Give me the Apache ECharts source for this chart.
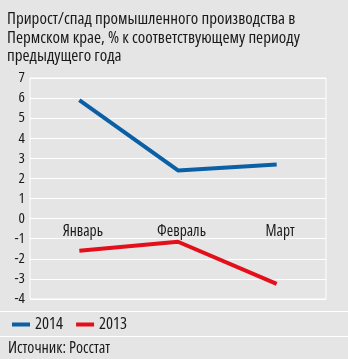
<!DOCTYPE html>
<html><head><meta charset="utf-8">
<script src="https://cdn.jsdelivr.net/npm/echarts@6/dist/echarts.min.js"></script>
<style>html,body{margin:0;padding:0;background:#e5e5e5;}#c{width:348px;height:359px;}</style>
</head><body><div id="c"></div>
<script>
const categories = ['Январь', 'Февраль', 'Март'];
const series2014 = [5.9, 2.4, 2.7];
const series2013 = [-1.6, -1.15, -3.25];
const legendNames = ['2014', '2013'];
const yMin = -4, yMax = 7, yStep = 1;

const FAM = '"Open Sans", "Roboto Condensed", sans-serif';
const ST = 'condensed';
const TXT = '#1a1a1a';
const GRID_TOP = 78, GRID_BOTTOM = 60, H = 359;
const plotH = H - GRID_TOP - GRID_BOTTOM;
const zeroOffset = -plotH * (0 - yMin) / (yMax - yMin);

const chart = echarts.init(document.getElementById('c'));
chart.setOption({
  backgroundColor: '#e5e5e5',
  animation: false,
  title: {
    text: 'Прирост/спад промышленного производства в\nПермском крае, % к соответствующему периоду\nпредыдущего года',
    left: 7, top: 10, padding: 0,
    textStyle: { fontFamily: FAM, fontStyle: ST, fontSize: 17, fontWeight: 'normal', color: TXT, lineHeight: 18.5 }
  },
  legend: {
    left: 12, top: 316, padding: 0,
    itemWidth: 18, itemHeight: 4, itemGap: 13,
    icon: 'rect',
    textStyle: { fontFamily: FAM, fontStyle: ST, fontSize: 16.5, color: TXT },
    data: legendNames
  },
  grid: { left: 30, right: 22, top: GRID_TOP, bottom: GRID_BOTTOM, show: true, borderColor: '#ffffff', borderWidth: 1, backgroundColor: 'transparent', containLabel: false },
  xAxis: {
    type: 'category', data: categories, boundaryGap: true,
    position: 'bottom', offset: zeroOffset,
    axisLine: { show: true, onZero: false, lineStyle: { color: '#ffffff', width: 1 } }, axisTick: { show: false },
    axisLabel: { fontFamily: FAM, fontStyle: ST, fontSize: 15.5, color: TXT, margin: 5, padding: [0, 0, 0, 7] },
    splitLine: { show: false }
  },
  yAxis: {
    type: 'value', min: yMin, max: yMax, interval: yStep,
    axisLine: { show: false }, axisTick: { show: false },
    axisLabel: { fontFamily: FAM, fontStyle: ST, fontSize: 15, color: TXT, margin: 5 },
    splitLine: { lineStyle: { color: '#ffffff', width: 1 } }
  },
  series: [
    { name: legendNames[0], type: 'line', data: series2014, symbol: 'none', lineStyle: { color: '#0b5fa5', width: 4 }, itemStyle: { color: '#0b5fa5' } },
    { name: legendNames[1], type: 'line', data: series2013, symbol: 'none', lineStyle: { color: '#e3101b', width: 4 }, itemStyle: { color: '#e3101b' } }
  ],
  graphic: [
    { type: 'line', shape: { x1: 0, y1: 311.5, x2: 348, y2: 311.5 }, style: { stroke: '#ffffff', lineWidth: 1 } },
    { type: 'line', shape: { x1: 0, y1: 336.5, x2: 348, y2: 336.5 }, style: { stroke: '#ffffff', lineWidth: 1 } },
    { type: 'text', left: 8, top: 340, style: { text: 'Источник: Росстат', font: 'condensed 16px ' + FAM, fill: TXT } }
  ]
});
</script></body></html>
